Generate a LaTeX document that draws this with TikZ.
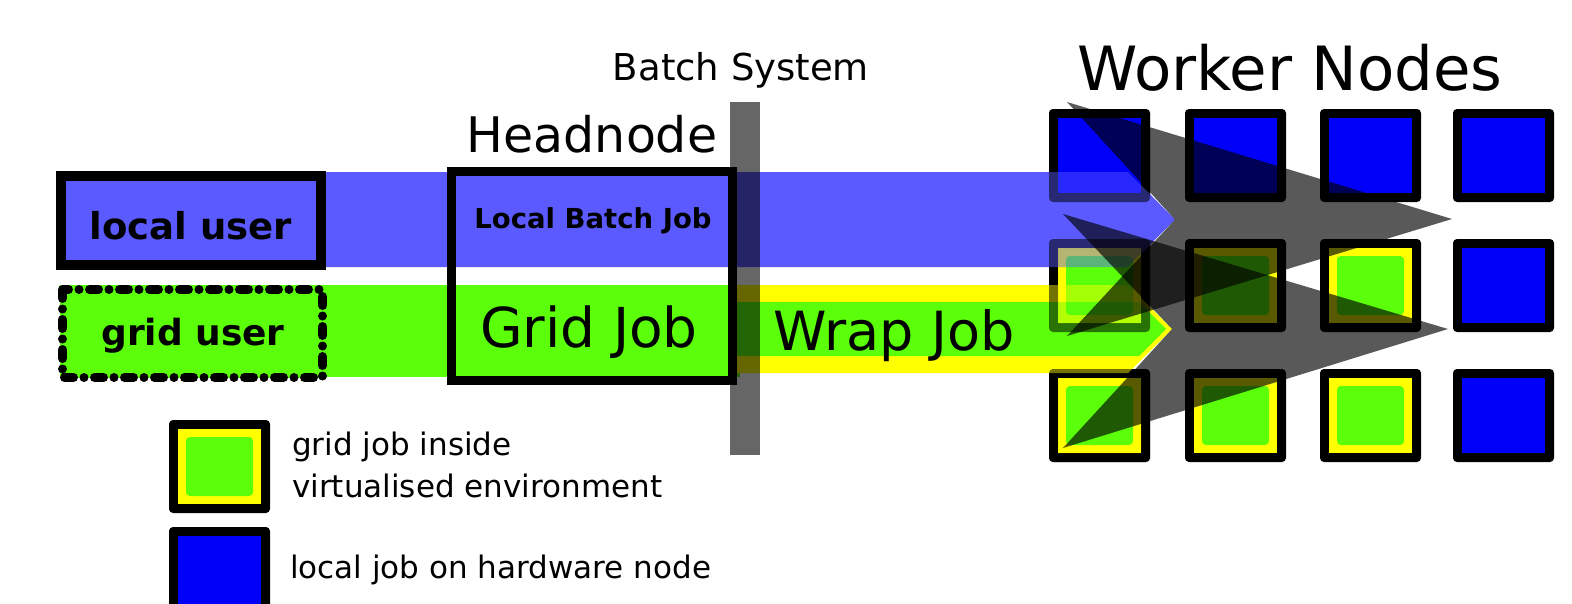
\documentclass[tikz,border=0pt]{standalone}
\usepackage{fontspec}
\setmainfont{DejaVu Sans}
\definecolor{hwblue}{RGB}{0,0,250}
\definecolor{vmyellow}{RGB}{255,255,0}
\definecolor{vmgreen}{RGB}{92,255,10}
\definecolor{localblue}{RGB}{90,90,255}
\newcommand\fsz[1]{\fontsize{#1}{#1}\selectfont}
\tikzset{
  % hardware node: black frame, blue core
  hwnode/.pic={
    \fill[black,rounded corners=4pt] (0,0) rectangle (101,93);
    \fill[hwblue] (9,9) rectangle (92,84);
  },
  % virtual machine: black frame, yellow shell, green core
  vmnode/.pic={
    \fill[black,rounded corners=4pt] (0,0) rectangle (101,93);
    \fill[vmyellow] (9,9) rectangle (92,84);
    \fill[vmgreen,rounded corners=4pt] (17,17) rectangle (84,76);
  },
  % translucent copies, split into non-overlapping rings
  hwveil/.pic={
    \fill[black,even odd rule,opacity=.55] [rounded corners=4pt] (0,0) rectangle (101,93) [sharp corners] (9,9) rectangle (92,84);
    \fill[hwblue,opacity=.55] (9,9) rectangle (92,84);
  },
  vmveil/.pic={
    \fill[black,even odd rule,opacity=.55] [rounded corners=4pt] (0,0) rectangle (101,93) [sharp corners] (9,9) rectangle (92,84);
    \fill[vmyellow,even odd rule,opacity=.55] (9,9) rectangle (92,84) [rounded corners=4pt] (17,17) rectangle (84,76);
    \fill[vmgreen,opacity=.55,rounded corners=4pt] (17,17) rectangle (84,76);
  },
  txt/.style={inner sep=0pt, anchor=base},
  ltxt/.style={inner sep=0pt, anchor=base west, font=\fsz{31}},
  dart/.style={fill=black, opacity=.65},
}
\begin{document}
\begin{tikzpicture}[x=1pt,y=-1pt]
\useasboundingbox (0,0) rectangle (1572,603);
\clip (0,0) rectangle (1572,603);
\fill[white] (0,0) rectangle (1572,603);

% worker node grid
\pic (w11) at (1049,109) {hwnode};
\pic (w12) at (1185,109) {hwnode};
\pic (w13) at (1320,109) {hwnode};
\pic (w14) at (1453,109) {hwnode};
\pic (w21) at (1049,239) {vmnode};
\pic (w22) at (1185,239) {vmnode};
\pic (w23) at (1320,239) {vmnode};
\pic (w24) at (1453,239) {hwnode};
\pic (w31) at (1049,369) {vmnode};
\pic (w32) at (1185,369) {vmnode};
\pic (w33) at (1320,369) {vmnode};
\pic (w34) at (1453,369) {hwnode};

% job flows
\fill[localblue] (60,172) -- (1128,172) -- (1175,219.5) -- (1128,267) -- (60,267) -- cycle;
\fill[vmgreen] (60,285) rectangle (740,377);
\fill[vmyellow] (735,285) -- (1128,285) -- (1172,329) -- (1128,373) -- (735,373) -- cycle;
\fill[vmgreen] (735,302) -- (1139,302) -- (1166,329) -- (1139,356) -- (735,356) -- cycle;

% first column shows through the flows
\pic at (1049,109) {hwveil};
\pic at (1049,239) {vmveil};
\pic at (1049,369) {vmveil};

% users
\draw[line width=10pt, fill=localblue] (61,176) rectangle (321,265);
\draw[line width=9pt, fill=vmgreen, line cap=round,
      dash pattern=on 9pt off 10.5pt on 0pt off 10.5pt] (62.5,289.5) rectangle (322.5,377.5);

% headnode
\draw[line width=9pt] (451.5,171.5) rectangle (732.5,380.5);

% batch system boundary
\fill[black, opacity=.6] (730,102) rectangle (760,455);

% distribution to the worker nodes
\fill[dart] (1067,102) -- (1452,219) -- (1067,336) -- (1175,219.5) -- cycle;
\fill[dart] (1063,214) -- (1448,329) -- (1063,448) -- (1172,329) -- cycle;

% labels
\node[txt, font=\fsz{37}] (batchsys) at (741,80) {Batch System};
\node[txt, font=\fsz{61}] (workers) at (1290,90) {Worker Nodes};
\node[txt, font=\fsz{49}] (headnode) at (592,152) {Headnode};
\node[txt, font=\bfseries\fsz{27.5}] (localjob) at (593,228) {Local Batch Job};
\node[txt, font=\fsz{55}] (gridjob) at (589,347) {Grid Job};
\node[txt, font=\fsz{54}] (wrapjob) at (894,350) {Wrap Job};
\node[txt, font=\bfseries\fsz{37}] (localuser) at (191,239) {local user};
\node[txt, font=\bfseries\fsz{36}] (griduser) at (193,345) {grid user};

% legend
\pic (legvm) at (169,420) {vmnode};
\pic (leghw) at (169,527) {hwnode};
\node[ltxt] (legvma) at (292,455) {grid job inside};
\node[ltxt] (legvmb) at (292,497) {virtualised environment};
\node[ltxt] (leghwa) at (290,578) {local job on hardware node};
\end{tikzpicture}
\end{document}
